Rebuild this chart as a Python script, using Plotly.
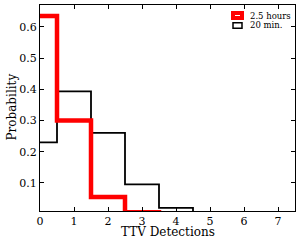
import plotly.graph_objects as go

# Histogram bin edges (TTV detections) and probabilities
bin_edges_long = [0, 0.5, 1.5, 2.5, 3.5]
prob_long = [0.635, 0.30, 0.055, 0.006]         # 2.5 hours
bin_edges_short = [0, 0.5, 1.5, 2.5, 3.5, 4.5]
prob_short = [0.23, 0.393, 0.26, 0.095, 0.02]    # 20 min.
labels = ["2.5 hours", "20 min."]
x_ticks = [0, 1, 2, 3, 4, 5, 6, 7]
y_ticks = [0.1, 0.2, 0.3, 0.4, 0.5, 0.6]


def step_xy(edges, vals):
    # left edges with values, then final right edge dropping to zero
    xs = list(edges[:-1]) + [edges[-1], edges[-1]]
    ys = list(vals) + [vals[-1], 0]
    return xs, ys


FONT = "DejaVu Serif"
W, H = 300, 240
ML, MR, MT, MB = 40, 5, 5, 29
PW, PH = W - ML - MR, H - MT - MB


def px(xp):
    return (xp - ML) / PW


def py(yp):
    return (H - MB - yp) / PH


fig = go.Figure()

xs, ys = step_xy(bin_edges_short, prob_short)
fig.add_trace(go.Scatter(x=xs, y=ys, mode="lines", line=dict(color="black", width=1.8, shape="hv"),
                         showlegend=False))
xs, ys = step_xy(bin_edges_long, prob_long)
fig.add_trace(go.Scatter(x=xs, y=ys, mode="lines", line=dict(color="#ff0000", width=4.5, shape="hv"),
                         showlegend=False))

axis_common = dict(showline=True, linecolor="black", linewidth=1, mirror="allticks",
                   ticks="inside", ticklen=4, tickcolor="black", showgrid=False, zeroline=False,
                   automargin=False, tickfont=dict(family=FONT, size=11, color="black"))

fig.update_layout(
    width=W, height=H,
    margin=dict(l=ML, r=MR, t=MT, b=MB),
    paper_bgcolor="white", plot_bgcolor="white",
    font=dict(family=FONT, color="black"),
    showlegend=False,
    xaxis=dict(range=[0, 7.5], tickvals=x_ticks, ticktext=[str(v) for v in x_ticks], **axis_common),
    yaxis=dict(range=[0.01, 0.67], tickvals=y_ticks, ticktext=[f"{v:.1f}" for v in y_ticks], **axis_common),
)

# axis titles
fig.add_annotation(text="TTV Detections", xref="paper", yref="paper", x=px(167.5), y=py(231.5),
                   xanchor="center", yanchor="middle", showarrow=False,
                   font=dict(family=FONT, size=12, color="black"))
fig.add_annotation(text="Probability", xref="paper", yref="paper", x=px(11), y=py(107.5),
                   xanchor="center", yanchor="middle", showarrow=False, textangle=-90,
                   font=dict(family=FONT, size=12, color="black"))

# legend
fig.add_shape(type="rect", xref="paper", yref="paper", x0=px(233), x1=px(242), y0=py(18), y1=py(13),
              line=dict(color="#ff0000", width=4), fillcolor="white")
fig.add_shape(type="rect", xref="paper", yref="paper", x0=px(233), x1=px(242), y0=py(28.3), y1=py(22.7),
              line=dict(color="black", width=1.5), fillcolor="white")
fig.add_annotation(text=labels[0], xref="paper", yref="paper", x=px(248), y=py(16),
                   xanchor="left", yanchor="middle", showarrow=False,
                   font=dict(family=FONT, size=8.5, color="black"))
fig.add_annotation(text=labels[1], xref="paper", yref="paper", x=px(248), y=py(25.5),
                   xanchor="left", yanchor="middle", showarrow=False,
                   font=dict(family=FONT, size=8.5, color="black"))

fig.write_html("out.html", config={"displayModeBar": False},
               post_script="document.body.style.margin='0';document.body.style.overflow='hidden';")
